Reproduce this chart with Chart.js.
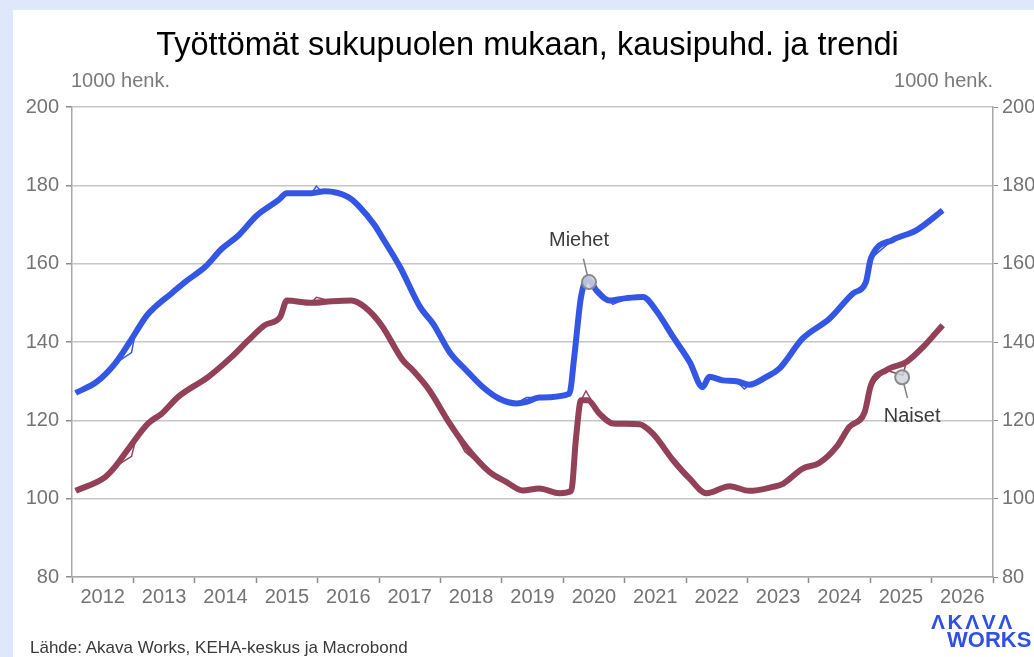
<!DOCTYPE html>
<html lang="fi">
<head>
<meta charset="utf-8">
<script src="https://cdn.jsdelivr.net/npm/chart.js@4/dist/chart.umd.min.js"></script>
<style>
  body { margin: 0; width: 1034px; height: 657px; background: #dfe8fb; overflow: hidden; font-family: "Liberation Sans", Arial, sans-serif; }
  #panel { position: absolute; left: 13px; top: 10px; width: 1021px; height: 647px; background: #fff; }
  #wrap { position: absolute; left: 0; top: 0; width: 1034px; height: 657px; }
  .txt { position: absolute; line-height: 1; white-space: nowrap; }
  #title { left: 0; width: 1055px; top: 28px; text-align: center; font-size: 32.5px; color: #000; }
  .unit { top: 70px; font-size: 20px; color: #7a7a7a; }
  #source { left: 30px; top: 639px; font-size: 17px; color: #3a3a3a; }
  .logo { font-weight: bold; color: #2f50e2; }
</style>
</head>
<body>
<div id="panel"></div>
<div id="wrap"><canvas id="chart" width="1034" height="657"></canvas></div>
<div class="txt" id="title">Työttömät sukupuolen mukaan, kausipuhd. ja trendi</div>
<div class="txt unit" style="left:71px">1000 henk.</div>
<div class="txt unit" style="right:41px">1000 henk.</div>
<div class="txt" id="source">Lähde: Akava Works, KEHA-keskus ja Macrobond</div>
<div class="txt logo" style="left:931px; top:611px; font-size:21px; letter-spacing:2.5px">ΛKΛVΛ</div>
<div class="txt logo" style="left:947px; top:629px; font-size:22px">WORKS</div>
<script>
// aika vuosina (desimaali), arvot 1000 henk.
const miehetTrendX = [2012.06, 2012.40, 2012.70, 2012.94, 2013.22, 2013.35, 2013.62, 2013.84, 2014.17, 2014.44, 2014.71, 2015.01, 2015.36, 2015.50, 2015.90, 2016.12, 2016.50, 2016.66, 2016.93, 2017.04, 2017.34, 2017.67, 2017.88, 2018.15, 2018.42, 2018.69, 2018.96, 2019.24, 2019.40, 2019.61, 2020.10, 2020.18, 2020.29, 2020.40, 2020.54, 2020.75, 2021.03, 2021.30, 2021.51, 2021.79, 2022.06, 2022.27, 2022.38, 2022.60, 2022.82, 2023.03, 2023.31, 2023.52, 2023.90, 2024.34, 2024.72, 2024.93, 2025.01, 2025.37, 2025.75, 2026.18];
const miehetTrend = [127.0, 129.8, 134.5, 140.0, 146.8, 148.9, 152.4, 155.3, 159.2, 163.8, 167.2, 172.3, 176.2, 178.0, 178.0, 178.5, 177.0, 174.9, 169.8, 167.0, 159.2, 148.9, 144.7, 137.4, 132.8, 128.5, 125.5, 124.3, 124.7, 125.8, 126.8, 136.2, 151.5, 156.0, 153.2, 150.6, 151.2, 151.5, 148.1, 141.3, 134.9, 128.5, 131.1, 130.2, 130.0, 129.1, 131.1, 133.2, 140.9, 146.0, 152.4, 155.3, 161.3, 166.1, 168.5, 173.6];

const naisetTrendX = [2012.06, 2012.54, 2012.70, 2012.94, 2013.24, 2013.46, 2013.73, 2014.22, 2014.60, 2014.87, 2015.14, 2015.39, 2015.50, 2015.90, 2016.23, 2016.55, 2016.77, 2017.04, 2017.39, 2017.55, 2017.82, 2018.15, 2018.42, 2018.80, 2019.07, 2019.34, 2019.61, 2019.94, 2020.13, 2020.21, 2020.29, 2020.40, 2020.59, 2020.81, 2021.24, 2021.46, 2021.79, 2022.06, 2022.33, 2022.71, 2023.03, 2023.41, 2023.58, 2023.90, 2024.17, 2024.45, 2024.66, 2024.91, 2025.01, 2025.26, 2025.59, 2025.86, 2026.18];
const naisetTrend = [102.0, 105.5, 108.1, 113.2, 119.2, 121.7, 126.0, 131.1, 136.2, 140.4, 144.3, 146.4, 150.6, 150.0, 150.4, 150.6, 148.9, 144.3, 135.3, 132.8, 127.7, 119.2, 113.2, 106.8, 104.3, 102.1, 102.6, 101.4, 102.0, 115.7, 125.1, 125.1, 121.7, 119.2, 119.0, 116.6, 109.8, 105.1, 101.4, 103.2, 102.0, 103.0, 103.8, 107.7, 109.1, 113.2, 118.3, 122.1, 128.9, 132.8, 134.9, 138.7, 144.3];

// kausitasoitettu (ohut viiva) kulkee trendin päällä; tässä ne kuukaudet, joissa se poikkeaa näkyvästi
const miehetPoikkeamaX = [2012.97, 2013.03, 2015.98, 2016.05, 2016.90, 2019.40, 2020.81, 2022.95];
const miehetPoikkeama = [137.3, 142.3, 179.8, 178.6, 170.8, 125.8, 149.6, 128.0];
const naisetPoikkeamaX = [2012.97, 2013.03, 2015.98, 2016.95, 2018.40, 2020.37, 2020.81, 2025.53];
const naisetPoikkeama = [110.8, 114.6, 151.4, 146.8, 112.0, 127.5, 118.8, 131.5];

const yTicks = [80, 100, 120, 140, 160, 180, 200];
const vuodet = [2012, 2013, 2014, 2015, 2016, 2017, 2018, 2019, 2020, 2021, 2022, 2023, 2024, 2025, 2026];

const sininen = '#3456e4';
const viini = '#934159';
const font = '"Liberation Sans", Arial, sans-serif';

function pisteet(xs, ys) {
  return xs.map((x, i) => ({ x: x, y: ys[i] }));
}

// trendin pisteet + poikkeamat yhdeksi ohueksi sarjaksi
function kausiSarja(tx, ty, px, py) {
  const p = pisteet(tx, ty).filter(d => !px.some(x => Math.abs(x - d.x) < 0.04));
  return p.concat(pisteet(px, py)).sort((a, b) => a.x - b.x);
}

// selitteet viivojen vieressä
const merkinnat = [
  { teksti: 'Miehet', x: 2020.42, y: 155.3, dx: -10, dy: -42 },
  { teksti: 'Naiset', x: 2025.52, y: 131.0, dx: 10, dy: 39 }
];

const merkintaPlugin = {
  id: 'merkinnat',
  afterDatasetsDraw(chart) {
    const c = chart.ctx;
    const xs = chart.scales.x, ys = chart.scales.y;
    c.save();
    merkinnat.forEach(m => {
      const px = xs.getPixelForValue(m.x);
      const py = ys.getPixelForValue(m.y);
      const lx = px + m.dx, ly = py + m.dy;
      const len = Math.hypot(m.dx, m.dy);
      const ux = m.dx / len, uy = m.dy / len;
      c.strokeStyle = '#808080';
      c.lineWidth = 1.5;
      c.beginPath();
      c.moveTo(px + ux * 7, py + uy * 7);
      c.lineTo(lx - ux * 19, ly - uy * 19);
      c.stroke();
      c.beginPath();
      c.arc(px, py, 7, 0, Math.PI * 2);
      c.fillStyle = 'rgba(208, 212, 222, 0.85)';
      c.fill();
      c.lineWidth = 2;
      c.strokeStyle = '#8a8a8a';
      c.stroke();
      c.font = '20px ' + font;
      c.fillStyle = '#3c3c3c';
      c.textAlign = 'center';
      c.textBaseline = 'middle';
      c.fillText(m.teksti, lx, ly);
    });
    c.restore();
  }
};

new Chart(document.getElementById('chart'), {
  type: 'line',
  data: {
    datasets: [
      {
        label: 'Miehet trendi',
        data: pisteet(miehetTrendX, miehetTrend),
        borderColor: sininen,
        borderWidth: 6,
        cubicInterpolationMode: 'monotone',
        pointRadius: 0,
        borderCapStyle: 'butt'
      },
      {
        label: 'Naiset trendi',
        data: pisteet(naisetTrendX, naisetTrend),
        borderColor: viini,
        borderWidth: 6,
        cubicInterpolationMode: 'monotone',
        pointRadius: 0,
        borderCapStyle: 'butt'
      },
      {
        label: 'Miehet kausipuhd.',
        data: kausiSarja(miehetTrendX, miehetTrend, miehetPoikkeamaX, miehetPoikkeama),
        borderColor: sininen,
        borderWidth: 1.5,
        tension: 0,
        pointRadius: 0
      },
      {
        label: 'Naiset kausipuhd.',
        data: kausiSarja(naisetTrendX, naisetTrend, naisetPoikkeamaX, naisetPoikkeama),
        borderColor: viini,
        borderWidth: 1.5,
        tension: 0,
        pointRadius: 0
      }
    ]
  },
  options: {
    responsive: false,
    animation: false,
    layout: { padding: { top: 107, left: 0, right: 0, bottom: 0 } },
    plugins: {
      legend: { display: false },
      tooltip: { enabled: false }
    },
    scales: {
      x: {
        type: 'linear',
        min: 2012,
        max: 2027,
        afterBuildTicks: s => {
          const t = [];
          vuodet.forEach(v => {
            t.push({ value: v });
            t.push({ value: v + 0.5 });
          });
          t.push({ value: 2027 });
          s.ticks = t;
        },
        afterFit: s => { s.height = 80; },
        grid: {
          drawOnChartArea: false,
          tickLength: 6,
          tickWidth: 1.5,
          tickColor: ctx => (ctx.tick && ctx.tick.value % 1 !== 0) ? 'rgba(0,0,0,0)' : '#8c8c8c'
        },
        border: { color: '#a8a8a8', width: 1.5 },
        ticks: {
          autoSkip: false,
          maxRotation: 0,
          padding: 2,
          color: '#747474',
          font: { family: font, size: 20 },
          callback: v => (v % 1 !== 0) ? String(Math.floor(v)) : ''
        }
      },
      y: {
        position: 'left',
        min: 80,
        max: 200,
        afterBuildTicks: s => { s.ticks = yTicks.map(v => ({ value: v })); },
        afterFit: s => { s.width = 72; },
        grid: { color: '#c6c6c6', lineWidth: 1.5, tickLength: 6, tickColor: '#8c8c8c' },
        border: { color: '#a8a8a8', width: 1.5 },
        ticks: { padding: 7, color: '#747474', font: { family: font, size: 20 } }
      },
      y2: {
        position: 'right',
        min: 80,
        max: 200,
        afterBuildTicks: s => { s.ticks = yTicks.map(v => ({ value: v })); },
        afterFit: s => { s.width = 41; },
        grid: { drawOnChartArea: false, tickLength: 5, tickColor: '#8c8c8c' },
        border: { color: '#a8a8a8', width: 1.5 },
        ticks: { padding: 4, color: '#747474', font: { family: font, size: 20 } }
      }
    }
  },
  plugins: [merkintaPlugin]
});
</script>
</body>
</html>
